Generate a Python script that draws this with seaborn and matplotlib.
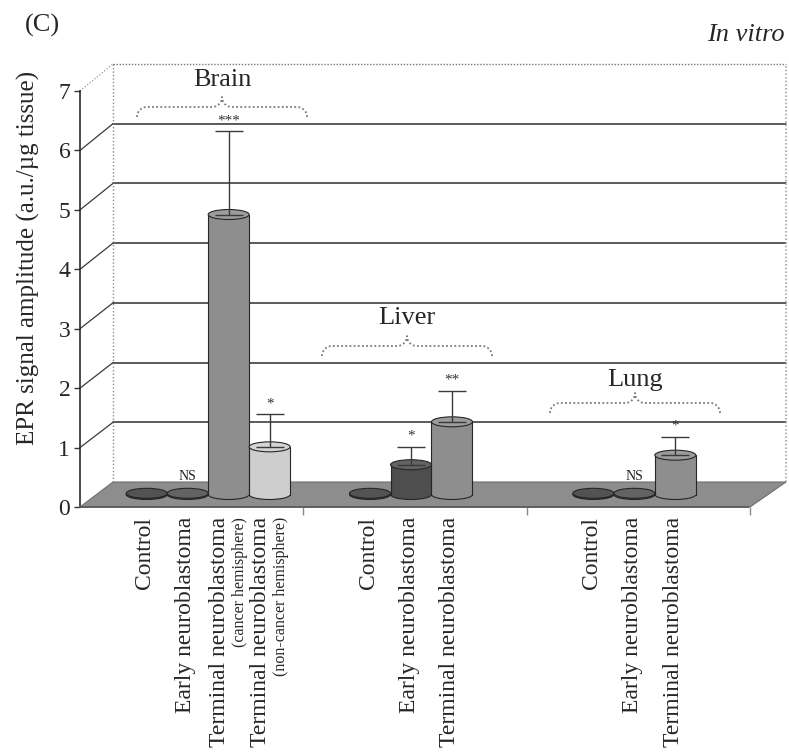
import numpy as np
import pandas as pd
import matplotlib
matplotlib.use("Agg")
import matplotlib.pyplot as plt
import matplotlib.transforms as mtransforms
from matplotlib.patches import Ellipse, Polygon
import matplotlib.colors as mcolors
import seaborn as sns

# ---------------- data ----------------
organs = ["Brain", "Liver", "Lung"]
series = ["Control", "Early neuroblastoma", "Terminal neuroblastoma",
          "Terminal neuroblastoma (non-cancer hemisphere)"]
brain_mean = [0.02, 0.02, 4.70, 0.80]
liver_mean = [0.02, 0.50, 1.22, np.nan]
lung_mean = [0.02, 0.02, 0.66, np.nan]
brain_sd = [0.0, 0.0, 1.40, 0.55]
liver_sd = [0.0, 0.30, 0.52, np.nan]
lung_sd = [0.0, 0.0, 0.31, np.nan]
brain_sig = ["", "NS", "***", "*"]
liver_sig = ["", "*", "**", ""]
lung_sig = ["", "NS", "*", ""]
bar_labels = ["Control", "Early neuroblastoma", "Terminal neuroblastoma", "Terminal neuroblastoma"]
brain_sublabels = ["", "", "(cancer hemisphere)", "(non-cancer hemisphere)"]
y_ticks = [0, 1, 2, 3, 4, 5, 6, 7]
ylabel = "EPR signal amplitude (a.u./µg tissue)"

palette = {"Control": "#3c3c3c", "Early neuroblastoma": "#4e4e4e",
           "Terminal neuroblastoma": "#8e8e8e",
           "Terminal neuroblastoma (non-cancer hemisphere)": "#cecece"}

rows = []
for organ, means, sds, sigs in zip(organs, [brain_mean, liver_mean, lung_mean],
                                   [brain_sd, liver_sd, lung_sd],
                                   [brain_sig, liver_sig, lung_sig]):
    for s, m, sd, sg in zip(series, means, sds, sigs):
        if not np.isnan(m):
            rows.append(dict(organ=organ, series=s, value=m, sd=sd, sig=sg))
df = pd.DataFrame(rows)

# ---------------- style / layout ----------------
sns.set_theme(style="white")
plt.rcParams["font.family"] = ["Liberation Serif", "DejaVu Serif"]

W, H = 789, 756
fig = plt.figure(figsize=(W / 100, H / 100), dpi=100)
fig.patch.set_facecolor("white")


def frame(l, r, t, b):
    return [l / W, 1 - b / H, (r - l) / W, (b - t) / H]


FL, FR, FT, FB = 80, 750, 91, 507       # front plane (axis)
BL, BR, BT, BB = 113, 786, 64, 482      # back wall
ML, MR = (FL + BL) / 2, FR + (BL - FL) / 2
MT, MB = (FT + BT) / 2, (FB + BB) / 2   # mid-depth plane (bars)

# back wall with gridlines
back = fig.add_axes(frame(BL, BR, BT, BB), zorder=1)
back.set_xlim(0, 1)
back.set_ylim(y_ticks[0], y_ticks[-1])
back.set_xticks([])
back.set_yticks([])
for sp in back.spines.values():
    sp.set_visible(False)
for v in y_ticks[1:]:
    if v < y_ticks[-1]:
        back.axhline(v, color="#2e2e2e", lw=1.1, clip_on=False)
    else:
        back.axhline(v, color="#777777", lw=1.0, ls=(0, (1, 1.2)), clip_on=False)
back.axvline(0, color="#8a8a8a", lw=1.0, ls=(0, (1, 1.5)), clip_on=False)
back.axvline(1, color="#a8a8a8", lw=1.2, ls=(0, (1, 1.2)), clip_on=False)

# side wall connectors + floor
deco = fig.add_axes([0, 0, 1, 1], zorder=2)
deco.set_xlim(0, W)
deco.set_ylim(H, 0)
deco.axis("off")
deco.patch.set_alpha(0)
ymax = y_ticks[-1]
for v in y_ticks[1:]:
    fy = FB - v * (FB - FT) / ymax
    by = BB - v * (BB - BT) / ymax
    if v < ymax:
        deco.plot([FL, BL], [fy, by], color="#3a3a3a", lw=0.9)
    else:
        deco.plot([FL, BL], [fy, by], color="#999999", lw=0.9, ls=(0, (1, 1.5)))
deco.add_patch(Polygon([(FL, FB), (FR, FB), (BR, BB), (BL, BB)], closed=True,
                       facecolor="#8d8d8d", edgecolor="#6e6e6e", lw=0.8))

# bars (cylinders) on mid-depth plane
ax = fig.add_axes(frame(ML, MR, MT, MB), zorder=3)
sns.barplot(data=df, x="organ", y="value", hue="series", order=organs,
            hue_order=series, palette=palette, width=0.734, gap=0,
            errorbar=None, saturation=1, linewidth=0, legend=False, ax=ax)
ax.set_xlim(-0.5, len(organs) - 0.5)
ax.set_ylim(y_ticks[0], y_ticks[-1])
ax.patch.set_alpha(0)
for sp in ax.spines.values():
    sp.set_visible(False)
ax.set_yticks([])
ax.set_xlabel("")
ax.set_ylabel("")

px_per_y = (MB - MT) / ymax
px_per_x = (MR - ML) / len(organs)
ell_h = 10 / px_per_y
edge = "#262626"


def lighten(c, f):
    r, g, b = mcolors.to_rgb(c)
    return (r + (1 - r) * f, g + (1 - g) * f, b + (1 - b) * f)


bar_containers = list(ax.containers)
tick_pos, tick_lab, subs = [], [], []
for si, cont in enumerate(bar_containers):
    s = series[si]
    for bar in cont:
        x0, w, h = bar.get_x(), bar.get_width(), bar.get_height()
        if np.isnan(h):
            continue
        cx = x0 + w / 2
        oi = int(round(cx))
        organ = organs[oi]
        row = df[(df.organ == organ) & (df.series == s)].iloc[0]
        face = bar.get_facecolor()
        bar.set_zorder(2)
        ax.add_patch(Ellipse((cx, 0), w, ell_h, facecolor=face, edgecolor=edge,
                             lw=0.8, zorder=1.5, clip_on=False))
        ax.plot([x0, x0], [0, h], color=edge, lw=0.8, zorder=2.2, clip_on=False)
        ax.plot([x0 + w, x0 + w], [0, h], color=edge, lw=0.8, zorder=2.2, clip_on=False)
        ax.add_patch(Ellipse((cx, h), w, ell_h, facecolor=lighten(face, 0.12),
                             edgecolor=edge, lw=0.8, zorder=2.5, clip_on=False))
        top = h
        if row.sd > 0:
            ax.errorbar([cx], [h], yerr=[[0], [row.sd]], fmt="none", ecolor="#3a3a3a",
                        elinewidth=1.0, capsize=10, capthick=1.0, zorder=4)
            top = h + row.sd
        if row.sig:
            if row.sig == "NS":
                tr = mtransforms.offset_copy(ax.transData, fig=fig, x=0, y=10, units="dots")
                ax.text(cx, top, row.sig, transform=tr, ha="center", va="bottom",
                        fontsize=10, color="#222222", zorder=5)
            else:
                tr = mtransforms.offset_copy(ax.transData, fig=fig, x=0, y=4, units="dots")
                ax.text(cx, top, row.sig, transform=tr, ha="center", va="bottom",
                        fontsize=11, color="#333333", zorder=5)
        lab = bar_labels[si]
        sub = brain_sublabels[si] if organ == "Brain" else ""
        if sub:
            tick_pos.append(cx - 9 / px_per_x)
            subs.append((cx + 11 / px_per_x, sub))
        else:
            tick_pos.append(cx - 2 / px_per_x)
        tick_lab.append(lab)

order = np.argsort(tick_pos)
ax.set_xticks([tick_pos[i] for i in order], [tick_lab[i] for i in order],
              rotation=90, fontsize=17)
ax.tick_params(axis="x", length=0, pad=(517 - MB) * 0.72, bottom=False)
sub_tr = mtransforms.offset_copy(ax.get_xaxis_transform(), fig=fig, x=0,
                                 y=-(517 - MB), units="dots")
for x, t in subs:
    ax.text(x, 0, t, transform=sub_tr, rotation=90, ha="center", va="top", fontsize=11.5)

# front axis
front = fig.add_axes(frame(FL, FR, FT, FB), zorder=4)
front.patch.set_alpha(0)
front.set_xlim(-0.5, len(organs) - 0.5)
front.set_ylim(y_ticks[0], y_ticks[-1])
front.set_yticks(y_ticks)
front.set_yticklabels([str(v) for v in y_ticks], fontsize=17)
front.set_xticks([i + 0.5 for i in range(len(organs))])
front.set_xticklabels([])
front.tick_params(axis="y", left=True, length=4, width=1, color="#333333", pad=3,
                  direction="out")
front.tick_params(axis="x", bottom=True, length=6, width=1, color="#8a8a8a",
                  direction="out")
front.spines["left"].set_color("#2a2a2a")
front.spines["left"].set_linewidth(1.2)
front.spines["bottom"].set_color("#5a5a5a")
front.spines["bottom"].set_linestyle((0, (1, 1)))
front.spines["top"].set_visible(False)
front.spines["right"].set_visible(False)

# annotations: group braces and titles
ov = fig.add_axes([0, 0, 1, 1], zorder=5)
ov.set_xlim(0, W)
ov.set_ylim(H, 0)
ov.axis("off")
ov.patch.set_alpha(0)


def brace(x0, x1, yb, depth=10, tip=10):
    xc = (x0 + x1) / 2
    yt = yb - depth
    t1 = np.linspace(np.pi, 1.5 * np.pi, 20)
    left = np.c_[x0 + depth + depth * np.cos(t1), yt + depth + depth * np.sin(t1)]
    t2 = np.linspace(0.5 * np.pi, 0, 20)
    mid_l = np.c_[xc - tip + tip * np.cos(t2), yt - tip + tip * np.sin(t2)]
    t3 = np.linspace(np.pi, 0.5 * np.pi, 20)
    mid_r = np.c_[xc + tip + tip * np.cos(t3), yt - tip + tip * np.sin(t3)]
    t4 = np.linspace(1.5 * np.pi, 2 * np.pi, 20)
    right = np.c_[x1 - depth + depth * np.cos(t4), yt + depth + depth * np.sin(t4)]
    pts = np.vstack([left, mid_l, mid_r, right])
    ov.plot(pts[:, 0], pts[:, 1], color="#7a7a7a", lw=1.3, ls=(0, (1, 1.3)))


group_boxes = [(137, 307, 117, 80), (322, 492, 356, 318), (550, 720, 413, 380)]
for organ, (x0, x1, yb, ty) in zip(organs, group_boxes):
    brace(x0, x1, yb)
    ov.text((x0 + x1) / 2, ty, organ, ha="center", va="center", fontsize=19)

fig.text(785 / W, 1 - 35 / H, "In vitro", ha="right", va="center", fontsize=19,
         style="italic")
fig.text(42 / W, 1 - 25 / H, "(C)", ha="center", va="center", fontsize=19)
fig.text(28 / W, 1 - 258 / H, ylabel, ha="center", va="center", rotation=90,
         fontsize=18)

fig.savefig("out.png", dpi=100, facecolor="white")
